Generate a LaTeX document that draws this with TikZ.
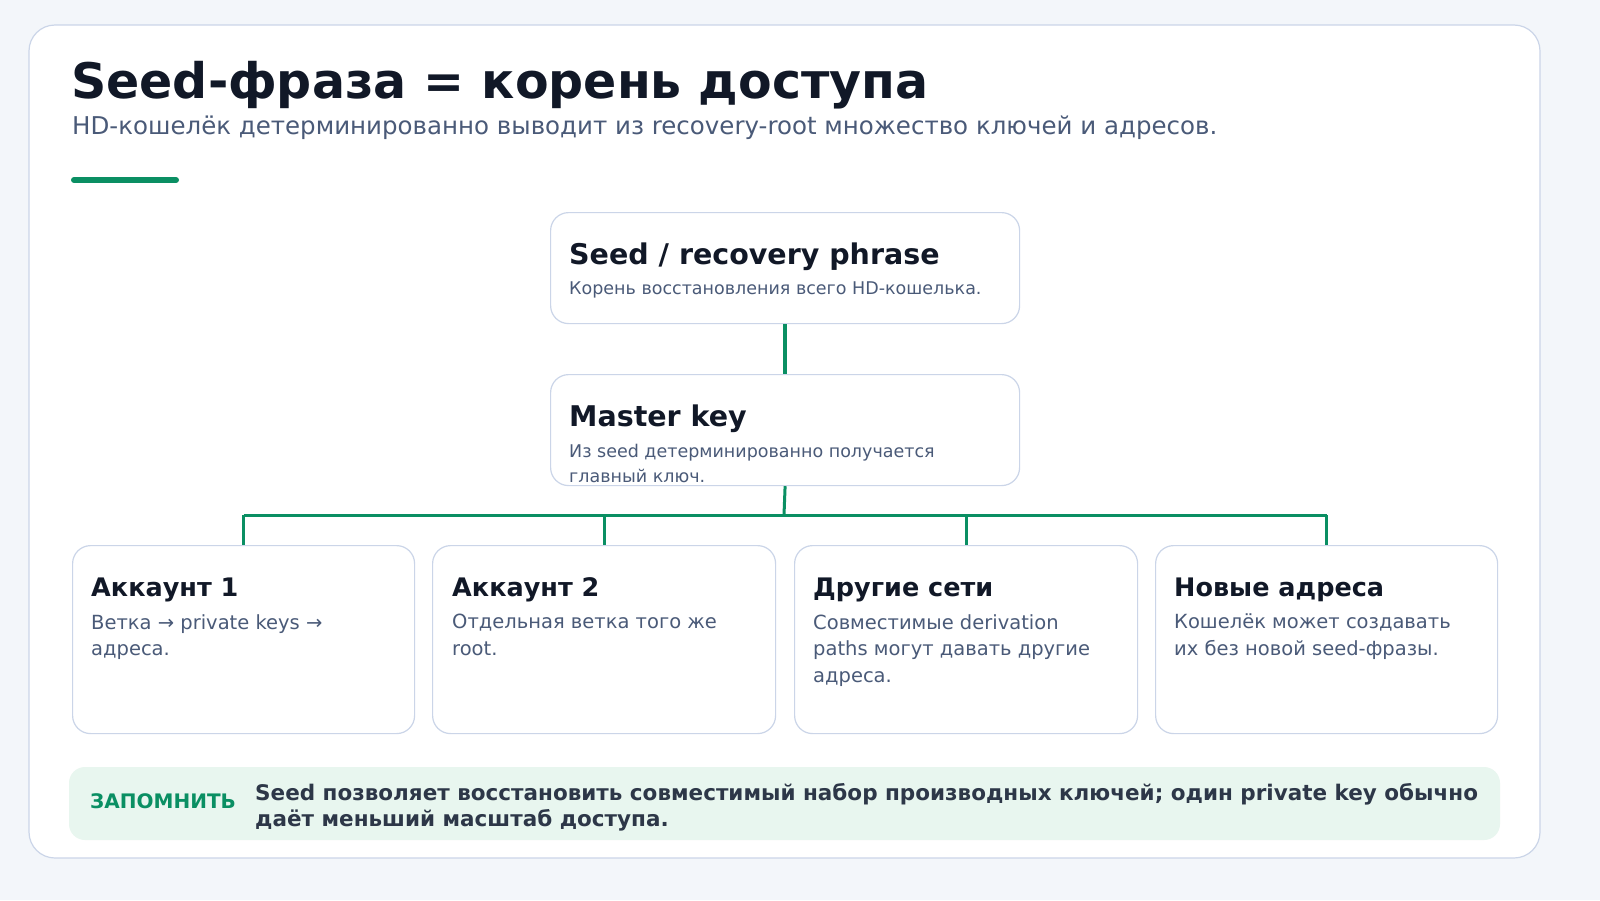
\documentclass[tikz,border=0pt]{standalone}
\usepackage{fontspec}
\setmainfont{DejaVu Sans}
\usetikzlibrary{positioning}
\definecolor{pagebg}{HTML}{F3F6FA}
\definecolor{cardline}{HTML}{CBD5E8}
\definecolor{inkdark}{HTML}{111827}
\definecolor{inksoft}{HTML}{4A5A78}
\definecolor{seedgreen}{HTML}{0A8F63}
\definecolor{notebg}{HTML}{E8F6EF}
\definecolor{notetext}{HTML}{2D3748}

\tikzset{
  card/.style={draw=cardline, line width=1.2pt, fill=white, rounded corners=18pt, anchor=north west},
  head/.style={font=\fontsize{28.5}{32}\selectfont\bfseries, text=inkdark, anchor=base west, inner sep=0pt},
  body/.style={font=\fontsize{19.5}{26.5}\selectfont, text=inksoft, anchor=north west, inner sep=0pt, align=left},
  link/.style={draw=seedgreen, line width=3pt}
}

\begin{document}
\begin{tikzpicture}[x=1pt, y=-1pt]
\useasboundingbox (0,0) rectangle (1600,900);
\fill[pagebg] (0,0) rectangle (1600,900);
\draw[cardline, fill=white, line width=1.2pt, rounded corners=26pt] (29,25) rectangle (1540,858);
% -- Header --
\node[anchor=base west, inner sep=0pt, text=inkdark, font=\fontsize{49}{52}\selectfont\bfseries] (title) at (71,98) {Seed-фраза = корень доступа};
\node[anchor=base west, inner sep=0pt, text=inksoft, font=\fontsize{24.5}{28}\selectfont] (subtitle) at (72,134) {HD-кошелёк детерминированно выводит из recovery-root множество ключей и адресов.};
\draw[seedgreen, line width=6pt, line cap=round] (74,180) -- (176,180);
% -- Top boxes --
\node[card, minimum width=469pt, minimum height=111pt] (seed) at (550,212) {};
\node[head] at (569,264) {Seed / recovery phrase};
\node[body, font=\fontsize{17.5}{24.5}\selectfont] at (569,282) {Корень восстановления всего HD-кошелька.};
\node[card, minimum width=469pt, minimum height=111pt] (master) at (550,374) {};
\node[head] at (569,426) {Master key};
\node[body, font=\fontsize{17.5}{24.5}\selectfont] at (569,444) {Из seed детерминированно получается\\главный ключ.};
% -- Cards --
\node[card, minimum width=342pt, minimum height=188pt] (acc1) at (72,545) {};
\node[card, minimum width=343pt, minimum height=188pt] (acc2) at (432,545) {};
\node[card, minimum width=343pt, minimum height=188pt] (nets) at (794,545) {};
\node[card, minimum width=342pt, minimum height=188pt] (addr) at (1155,545) {};
\node[head, font=\fontsize{25.5}{29}\selectfont\bfseries] at (91,596) {Аккаунт 1};
\node[body] at (91,614) {Ветка → private keys →\\адреса.};
\node[head, font=\fontsize{25.5}{29}\selectfont\bfseries] at (452,596) {Аккаунт 2};
\node[body] at (452,614) {Отдельная ветка того же\\root.};
\node[head, font=\fontsize{25.5}{29}\selectfont\bfseries] at (813,596) {Другие сети};
\node[body] at (813,614) {Совместимые derivation\\paths могут давать другие\\адреса.};
\node[head, font=\fontsize{25.5}{29}\selectfont\bfseries] at (1174,596) {Новые адреса};
\node[body] at (1174,614) {Кошелёк может создавать\\их без новой seed-фразы.};
% -- Connectors --
\coordinate (split) at (784,515);
\draw[link, line width=4pt] (seed.south) -- (master.north);
\draw[link] (master.south) -- (split);
\draw[link] (split -| acc1.north) -- (split -| addr.north);
\foreach \c in {acc1,acc2,nets,addr}
  \draw[link] (split -| \c.north) -- (\c.north);
% -- Note --
\fill[notebg, rounded corners=16pt] (69,767) rectangle (1500,840);
\node[anchor=base west, inner sep=0pt, text=seedgreen, font=\fontsize{20}{23}\selectfont\bfseries] (notelabel) at (90,808) {ЗАПОМНИТЬ};
\node[anchor=north west, inner sep=0pt, text=notetext, align=left, font=\fontsize{21.5}{26.5}\selectfont\bfseries] (notetext) at (255,783) {Seed позволяет восстановить совместимый набор производных ключей; один private key обычно\\даёт меньший масштаб доступа.};
\end{tikzpicture}
\end{document}
